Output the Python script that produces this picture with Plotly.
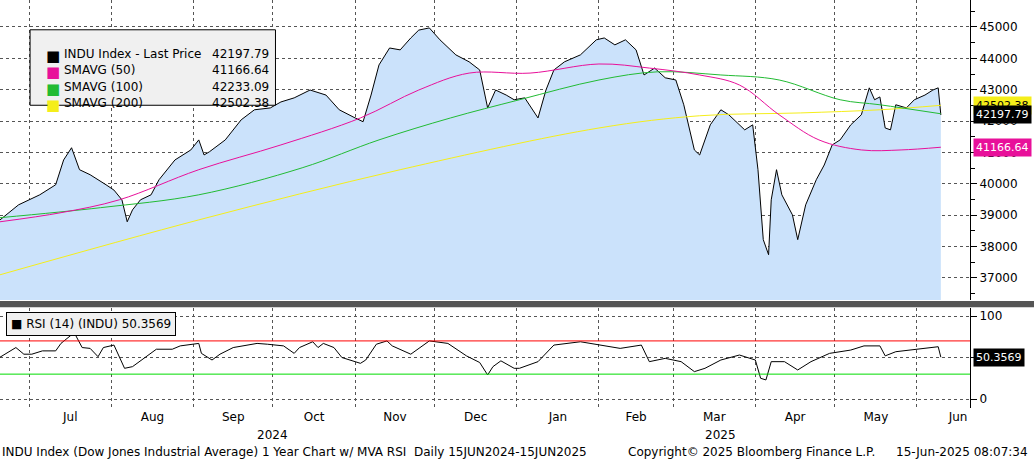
import plotly.graph_objects as go
from plotly.subplots import make_subplots

# --- INDU last price ---
price_dates = [
    "2024-06-20", "2024-06-27", "2024-07-05", "2024-07-11", "2024-07-14", "2024-07-17",
    "2024-07-20", "2024-07-24", "2024-07-30", "2024-08-02", "2024-08-05", "2024-08-07",
    "2024-08-09", "2024-08-12", "2024-08-16", "2024-08-19", "2024-08-25", "2024-08-31",
    "2024-09-03", "2024-09-05", "2024-09-07", "2024-09-13", "2024-09-19", "2024-09-24",
    "2024-09-30", "2024-10-04", "2024-10-09", "2024-10-15", "2024-10-21", "2024-10-26",
    "2024-11-01", "2024-11-04", "2024-11-07", "2024-11-10", "2024-11-14", "2024-11-18",
    "2024-11-22", "2024-11-25", "2024-11-29", "2024-12-03", "2024-12-09", "2024-12-14",
    "2024-12-18", "2024-12-21", "2024-12-24", "2024-12-28", "2024-12-31", "2025-01-04",
    "2025-01-09", "2025-01-12", "2025-01-15", "2025-01-19", "2025-01-25", "2025-01-31",
    "2025-02-03", "2025-02-07", "2025-02-11", "2025-02-15", "2025-02-18", "2025-02-22",
    "2025-02-26", "2025-03-02", "2025-03-05", "2025-03-09", "2025-03-11", "2025-03-15",
    "2025-03-19", "2025-03-22", "2025-03-28", "2025-03-31", "2025-04-02", "2025-04-04",
    "2025-04-06", "2025-04-07", "2025-04-09", "2025-04-11", "2025-04-15", "2025-04-17",
    "2025-04-20", "2025-04-24", "2025-04-27", "2025-04-30", "2025-05-03", "2025-05-07",
    "2025-05-09", "2025-05-11", "2025-05-14", "2025-05-16", "2025-05-18", "2025-05-20",
    "2025-05-22", "2025-05-24", "2025-05-28", "2025-05-31", "2025-06-04", "2025-06-07",
    "2025-06-09", "2025-06-10",
]
price = [
    38850, 39330, 39650, 39970, 40760, 41150,
    40450, 40290, 39970, 39800, 39490, 38790,
    39170, 39490, 39650, 40130, 40760, 41080,
    41400, 40920, 41020, 41400, 42040, 42360,
    42420, 42610, 42740, 42990, 42830, 42360,
    42100, 41980, 42830, 43790, 44330, 44270,
    44650, 44900, 44970, 44590, 44110, 43890,
    43630, 42420, 42990, 42830, 42680, 42740,
    42100, 42990, 43630, 43890, 44110, 44590,
    44650, 44430, 44590, 44270, 43470, 43690,
    43380, 43310, 42520, 41080, 40920, 41880,
    42360, 42200, 41720, 41880, 40450, 38220,
    37740, 39490, 40450, 39650, 39010, 38220,
    39330, 40130, 40600, 41240, 41400, 41880,
    42040, 42200, 43060, 42680, 42770, 41780,
    41720, 42520, 42420, 42680, 42830, 42990,
    43060, 42197.79,
]

# --- moving averages ---
sma50_dates = ["2024-06-20", "2024-07-13", "2024-08-04", "2024-09-03", "2024-10-04", "2024-11-03",
               "2024-11-25", "2024-12-14", "2025-01-06", "2025-02-01", "2025-02-20", "2025-03-11",
               "2025-03-26", "2025-04-10", "2025-04-25", "2025-05-11", "2025-05-26", "2025-06-10"]
sma50 = [38790, 39080, 39490, 40450, 41240, 42100,
         42990, 43530, 43530, 43820, 43690, 43470,
         43150, 42200, 41400, 41080, 41080, 41166.64]

sma100_dates = ["2024-06-20", "2024-07-28", "2024-09-03", "2024-10-12", "2024-11-10", "2024-12-07",
                "2025-01-02", "2025-02-01", "2025-02-23", "2025-03-19", "2025-04-10", "2025-05-03",
                "2025-05-18", "2025-06-10"]
sma100 = [38920, 39240, 39650, 40510, 41400, 42100,
          42680, 43310, 43570, 43470, 43310, 42680,
          42520, 42233.09]

sma200_dates = ["2024-06-20", "2024-09-03", "2024-11-18", "2025-02-01", "2025-03-11",
                "2025-04-18", "2025-05-18", "2025-06-10"]
sma200 = [37100, 38850, 40450, 41780, 42170, 42260, 42360, 42502.38]

# --- RSI(14) ---
rsi_dates = [
    "2024-06-20", "2024-06-26", "2024-06-29", "2024-07-02", "2024-07-06", "2024-07-11",
    "2024-07-13", "2024-07-18", "2024-07-21", "2024-07-24", "2024-07-27", "2024-07-29",
    "2024-08-02", "2024-08-06", "2024-08-09", "2024-08-12", "2024-08-18", "2024-08-24",
    "2024-08-27", "2024-09-03", "2024-09-04", "2024-09-08", "2024-09-11", "2024-09-16",
    "2024-09-25", "2024-09-29", "2024-10-05", "2024-10-09", "2024-10-11", "2024-10-16",
    "2024-10-18", "2024-10-20", "2024-10-24", "2024-10-27", "2024-11-03", "2024-11-05",
    "2024-11-09", "2024-11-13", "2024-11-15", "2024-11-22", "2024-11-29", "2024-12-06",
    "2024-12-13", "2024-12-18", "2024-12-21", "2024-12-23", "2024-12-26", "2024-12-31",
    "2025-01-02", "2025-01-09", "2025-01-15", "2025-01-25", "2025-02-01", "2025-02-09",
    "2025-02-17", "2025-02-20", "2025-02-26", "2025-03-04", "2025-03-09", "2025-03-13",
    "2025-03-19", "2025-03-26", "2025-04-01", "2025-04-03", "2025-04-05", "2025-04-07",
    "2025-04-12", "2025-04-17", "2025-04-22", "2025-04-29", "2025-05-07", "2025-05-12",
    "2025-05-18", "2025-05-20", "2025-05-24", "2025-05-29", "2025-06-04", "2025-06-09",
    "2025-06-10",
]
rsi = [
    50.4, 62, 54, 54, 58, 58,
    67, 80, 62, 61, 51, 62,
    65, 37, 39, 46, 60, 60,
    64, 67, 55, 47, 54, 62,
    67, 66, 64, 55, 62, 69,
    62, 67, 62, 50, 43, 47,
    66, 70, 64, 54, 70, 67,
    52, 44, 29, 39, 46, 37,
    37, 45, 65, 69, 65, 61,
    65, 45, 49, 45, 33, 37,
    47, 53, 47, 25, 23, 45,
    45, 35, 45, 55, 59, 64,
    64, 52, 57, 59, 61, 63,
    50.3569,
]

legend_rows = [("INDU Index - Last Price", "42197.79", "black"),
               ("SMAVG (50)", "41166.64", "#e8109a"),
               ("SMAVG (100)", "42233.09", "#22bb33"),
               ("SMAVG (200)", "42502.38", "#f5ee1a")]

FONT = "DejaVu Sans"
X_RANGE = ["2024-06-20", "2025-06-21"]

fig = make_subplots(rows=2, cols=1, shared_xaxes=True, vertical_spacing=0.02,
                    row_heights=[0.75, 0.25])

fig.add_trace(go.Scatter(x=price_dates, y=price, mode="lines", fill="tozeroy",
                         fillcolor="#cbe2fb", line=dict(color="black", width=1),
                         showlegend=False), row=1, col=1)
fig.add_trace(go.Scatter(x=sma200_dates, y=sma200, mode="lines", line_shape="spline",
                         line=dict(color="#f5ee1a", width=1), showlegend=False), row=1, col=1)
fig.add_trace(go.Scatter(x=sma100_dates, y=sma100, mode="lines", line_shape="spline",
                         line=dict(color="#22bb33", width=1), showlegend=False), row=1, col=1)
fig.add_trace(go.Scatter(x=sma50_dates, y=sma50, mode="lines", line_shape="spline",
                         line=dict(color="#e8109a", width=1), showlegend=False), row=1, col=1)
fig.add_trace(go.Scatter(x=rsi_dates, y=rsi, mode="lines",
                         line=dict(color="black", width=1), showlegend=False), row=2, col=1)

grid = dict(showgrid=True, gridcolor="#555", griddash="dot", gridwidth=1)
fig.update_xaxes(range=X_RANGE, dtick="M1", tickformat="%b", ticklabelmode="period",
                 showline=False, zeroline=False, ticks="", automargin=False, **grid)
fig.update_xaxes(showticklabels=False, row=1, col=1)
fig.update_xaxes(tickfont=dict(family=FONT, size=12, color="black"), row=2, col=1)

yax = dict(side="right", ticks="outside", ticklen=6, tickcolor="black", showline=True,
           linecolor="black", linewidth=1, zeroline=False, automargin=False,
           tickfont=dict(family=FONT, size=12, color="black"), **grid)
fig.update_yaxes(range=[36300, 45860], tickformat="d", tickvals=list(range(37000, 46000, 1000)),
                 minor=dict(ticks="outside", ticklen=4, dtick=500, tickcolor="black"),
                 row=1, col=1, **yax)
fig.update_yaxes(range=[-10.8, 109.6], tickvals=[0, 50, 100], ticktext=["0", "", "100"],
                 row=2, col=1, **yax)

# RSI reference lines
fig.add_hline(y=70, line=dict(color="red", width=1), row=2, col=1)
fig.add_hline(y=30, line=dict(color="#00dd00", width=1), row=2, col=1)

# panel separator
fig.add_shape(type="rect", xref="paper", yref="paper", x0=0, x1=1.07, y0=0.247, y1=0.262,
              fillcolor="#555", line_width=0)

# legend box, price panel
fig.add_shape(type="rect", xref="paper", yref="paper", x0=0.031, x1=0.284, y0=0.742, y1=0.927,
              fillcolor="#f0f0f0", line=dict(color="black", width=1))
for i, (name, val, col) in enumerate(legend_rows):
    yy = 0.89 - i * 0.04
    fig.add_annotation(xref="paper", yref="paper", x=0.045, y=yy, text="■", showarrow=False,
                       xanchor="left", font=dict(family=FONT, size=15, color=col))
    fig.add_annotation(xref="paper", yref="paper", x=0.064, y=yy, text=name, showarrow=False,
                       xanchor="left", font=dict(family=FONT, size=12, color="black"))
    fig.add_annotation(xref="paper", yref="paper", x=0.279, y=yy, text=val, showarrow=False,
                       xanchor="right", font=dict(family=FONT, size=12, color="black"))

# legend box, RSI panel
fig.add_annotation(xref="paper", yref="paper", x=0.006, y=0.235, xanchor="left", yanchor="top",
                   text="■ RSI (14) (INDU) 50.3569", showarrow=False, bgcolor="#f0f0f0",
                   bordercolor="black", borderwidth=1, borderpad=4,
                   font=dict(family=FONT, size=12, color="black"))

# right-side value tags
for yv, txt, bg, fg, ref in [(sma200[-1], "42502.38", "#f5ee1a", "black", "y"),
                             (price[-1], "42197.79", "black", "white", "y"),
                             (sma50[-1], "41166.64", "#e8109a", "white", "y"),
                             (rsi[-1], "50.3569", "black", "white", "y2")]:
    fig.add_annotation(xref="paper", yref=ref, x=1.003, y=yv, text=txt, showarrow=False,
                       xanchor="left", bgcolor=bg, borderpad=2,
                       font=dict(family=FONT, size=11, color=fg))

# year labels and footer
fig.add_annotation(xref="x2", yref="paper", x="2024-10-01", y=-0.066, text="2024", showarrow=False,
                   yanchor="middle", font=dict(family=FONT, size=12, color="black"))
fig.add_annotation(xref="x2", yref="paper", x="2025-03-19", y=-0.066, text="2025", showarrow=False,
                   yanchor="middle", font=dict(family=FONT, size=12, color="black"))
footer = dict(family=FONT, size=12, color="black")
fig.add_annotation(xref="paper", yref="paper", x=0.0, y=-0.108, yanchor="middle", xanchor="left",
                   showarrow=False, font=footer,
                   text="INDU Index (Dow Jones Industrial Average) 1 Year Chart w/ MVA RSI  "
                        "Daily 15JUN2024-15JUN2025")
fig.add_annotation(xref="paper", yref="paper", x=0.645, y=-0.108, yanchor="middle", xanchor="left",
                   showarrow=False, font=footer, text="Copyright© 2025 Bloomberg Finance L.P.")
fig.add_annotation(xref="paper", yref="paper", x=1.062, y=-0.108, yanchor="middle", xanchor="right",
                   showarrow=False, font=footer, text="15-Jun-2025 08:07:34")

fig.update_layout(width=1034, height=460, paper_bgcolor="white", plot_bgcolor="white",
                  margin=dict(l=0, r=64, t=0, b=52, autoexpand=False), font=dict(family=FONT))
fig.update_layout(yaxis=dict(domain=[0.265, 1.0]), yaxis2=dict(domain=[0.0, 0.245]))

fig.write_html("out.html", config={"displayModeBar": False},
               post_script="document.body.style.margin='0';document.body.style.overflow='hidden';")
